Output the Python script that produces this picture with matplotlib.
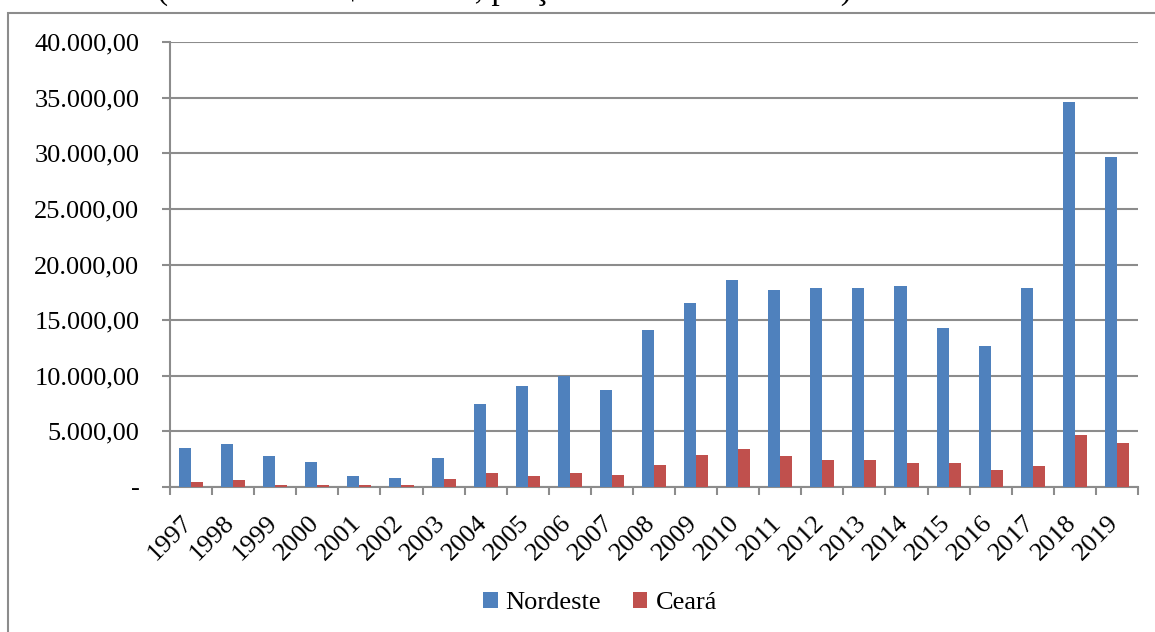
import matplotlib
matplotlib.use("Agg")
import matplotlib.pyplot as plt
import matplotlib.transforms as mtransforms
import numpy as np
from matplotlib.ticker import FuncFormatter, FixedLocator
from matplotlib.patches import Rectangle

plt.rcParams['font.family'] = ['Liberation Serif', 'DejaVu Serif']

# Dados
anos = ['1997', '1998', '1999', '2000', '2001', '2002', '2003', '2004', '2005', '2006', '2007', '2008',
        '2009', '2010', '2011', '2012', '2013', '2014', '2015', '2016', '2017', '2018', '2019']
nordeste = [3500, 3850, 2800, 2250, 1000, 800, 2600, 7450, 9080, 10000, 8700, 14100,
            16500, 18600, 17700, 17900, 17900, 18100, 14300, 12700, 17900, 34650, 29650]
ceara = [450, 600, 220, 220, 220, 220, 750, 1300, 950, 1300, 1120, 2000,
         2900, 3450, 2750, 2400, 2400, 2200, 2200, 1500, 1850, 4700, 4000]
titulo = "(valores em R$ milhões, preços constantes de 2019)"

AZUL = '#4F81BD'
VERMELHO = '#C0504D'
CINZA = '#8C8C8C'
FS = 19


def fmt_br(v, pos):
    if v == 0:
        return '-'
    s = f"{v:,.2f}"
    return s.replace(',', 'X').replace('.', ',').replace('X', '.')


fig = plt.figure(figsize=(11.55, 6.32), dpi=100)
ax = fig.add_axes([170/1155, 1-487/632, (1138-170)/1155, (487-42)/632])

# borda externa do grafico
fig.patches.append(Rectangle((8/1155, -0.1), 1.2, 1-13/632+0.1, transform=fig.transFigure,
                             fill=False, edgecolor=CINZA, linewidth=1.5, zorder=0))

x = np.arange(len(anos))
w = 1/3.5
ax.bar(x - w/2, nordeste, w, color=AZUL, label='Nordeste', zorder=3)
ax.bar(x + w/2, ceara, w, color=VERMELHO, label='Ceará', zorder=3)

ax.set_xlim(-0.5, len(anos)-0.5)
ax.set_ylim(0, 40000)
ax.set_yticks(np.arange(0, 40001, 5000))
ax.yaxis.set_major_formatter(FuncFormatter(fmt_br))
ax.grid(axis='y', color=CINZA, linewidth=1.5, zorder=0)

ax.set_xticks(x)
ax.set_xticklabels(anos, rotation=45, ha='right')
ax.xaxis.set_minor_locator(FixedLocator(np.arange(-0.5, len(anos), 1)))
ax.tick_params(axis='x', which='major', length=0, pad=18, labelsize=FS)
ax.tick_params(axis='x', which='minor', length=6, width=1.5, color=CINZA)
ax.tick_params(axis='y', length=6, width=1.5, color=CINZA, pad=16, labelsize=FS)

# desloca um pouco os rotulos do eixo x para a direita
desloc = mtransforms.ScaledTranslation(6/100, 0, fig.dpi_scale_trans)
for lbl in ax.get_xticklabels():
    lbl.set_transform(lbl.get_transform() + desloc)

for s in ['top', 'right']:
    ax.spines[s].set_visible(False)
for s in ['left', 'bottom']:
    ax.spines[s].set_color(CINZA)
    ax.spines[s].set_linewidth(1.5)

# titulo cortado na parte superior (como no original)
fig.text(504/1155, 1+1.5/632, titulo, ha='center', va='baseline', fontsize=24)

fig.legend(loc='center', bbox_to_anchor=(600/1155, 1-603/632), ncol=2, frameon=False,
           fontsize=FS, handlelength=0.55, handleheight=0.55, handletextpad=0.3,
           columnspacing=1.2)

fig.savefig('out.png', dpi=100)
